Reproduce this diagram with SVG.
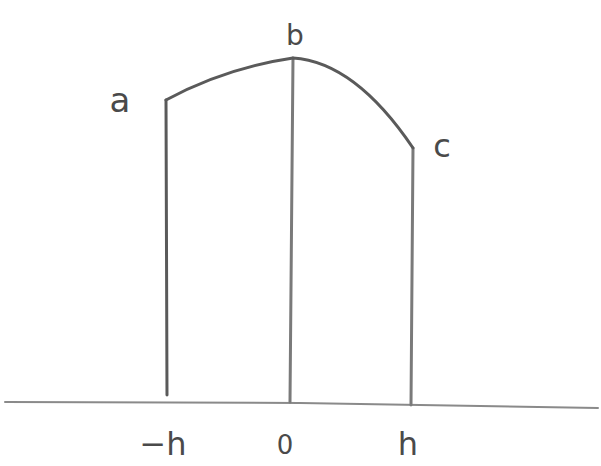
<svg xmlns="http://www.w3.org/2000/svg" width="601" height="466" viewBox="0 0 601 466">
<style>
.ln{fill:none;stroke:#5a5a5a;stroke-width:3;stroke-linecap:round;stroke-linejoin:round}
.thin{fill:none;stroke:#8a8a8a;stroke-width:2;stroke-linecap:round}
.lbl{font-family:"DejaVu Sans","Liberation Sans",sans-serif;fill:#4a4a4a;text-anchor:middle}
</style>
<rect width="601" height="466" fill="#ffffff"/>
<g id="connectors">
<path class="thin" d="M5,402 L300,403 L598,408"/>
<path class="ln" d="M166,100 L167,395"/>
<path class="ln" style="stroke:#7a7a7a" d="M293,58 L290,402"/>
<path class="ln" style="stroke:#7a7a7a" d="M413,148 L411,405"/>
<path class="ln" d="M166,100 Q225,68 293,58 Q355,62 413,148"/>
</g>
<g id="node-a"><text class="lbl" x="120" y="112" font-size="34">a</text></g>
<g id="node-b"><text class="lbl" x="295" y="45" font-size="28">b</text></g>
<g id="node-c"><text class="lbl" x="442" y="157" font-size="32">c</text></g>
<g id="tick-minus-h"><text class="lbl" x="163" y="455" font-size="32">−h</text></g>
<g id="tick-0"><text class="lbl" x="285" y="454" font-size="26">0</text></g>
<g id="tick-h"><text class="lbl" x="408" y="455" font-size="32">h</text></g>
</svg>
